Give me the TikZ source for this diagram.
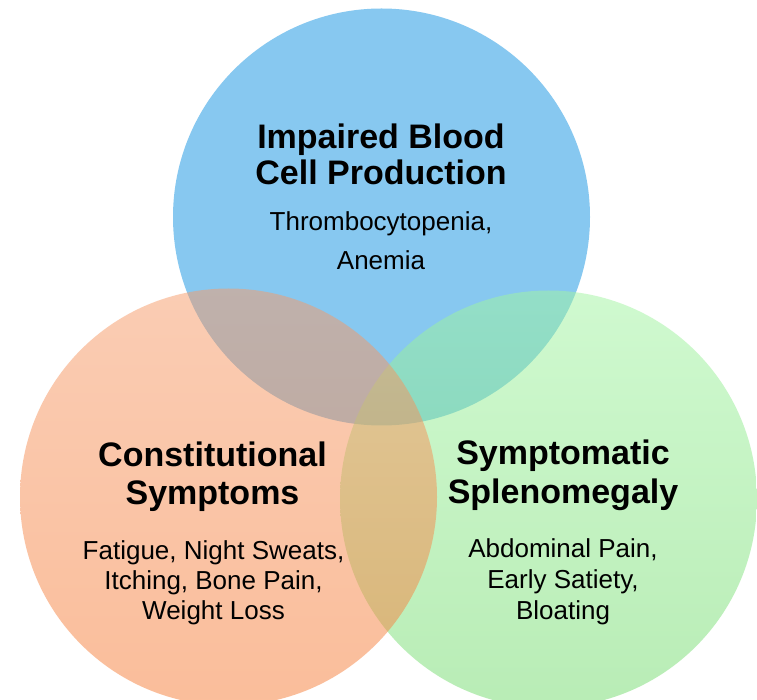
\documentclass[tikz,border=0pt]{standalone}
\usepackage{fontspec}
\setmainfont{Liberation Sans}
\usepackage{tikz}

\begin{document}
\begin{tikzpicture}[x=1pt,y=1pt,
  headText/.style={anchor=base,inner sep=0pt,outer sep=0pt,font=\fontsize{34}{36}\selectfont\bfseries},
  bodyText/.style={anchor=base,inner sep=0pt,outer sep=0pt,font=\fontsize{26}{28}\selectfont}]
\definecolor{fillColor}{RGB}{255,255,255}
\path[use as bounding box,fill=fillColor] (0,0) rectangle (757,699);
\begin{scope}
\path[clip] (0,0) rectangle (757,699);
\definecolor{blueTop}{RGB}{135,200,240}
\definecolor{greenTop}{RGB}{161,245,161}
\definecolor{greenBot}{RGB}{115,219,109}
\definecolor{orangeTop}{RGB}{247,155,105}
\definecolor{orangeBot}{RGB}{247,125,55}

\path[fill=blueTop] (381.5,482.0) circle (208.5);

\path[top color=greenTop,bottom color=greenBot,fill opacity=0.50] (548.5,200.0) circle (208.5);

\path[top color=orangeTop,bottom color=orangeBot,fill opacity=0.50] (228.5,202.0) circle (208.5);
\end{scope}
\definecolor{drawColor}{RGB}{0,0,0}

\node[headText,text=drawColor] (imp1) at (381.0,550.0) {Impaired Blood};

\node[headText,text=drawColor] (imp2) at (381.0,514.0) {Cell Production};

\node[bodyText,text=drawColor] (imp3) at (381.0,468.0) {Thrombocytopenia,};

\node[bodyText,text=drawColor] (imp4) at (381.0,429.0) {Anemia};

\node[headText,text=drawColor] (con1) at (212.5,233.0) {Constitutional};

\node[headText,text=drawColor] (con2) at (212.5,195.0) {Symptoms};

\node[bodyText,text=drawColor] (con3) at (213.5,140.0) {Fatigue, Night Sweats,};

\node[bodyText,text=drawColor] (con4) at (213.5,110.0) {Itching, Bone Pain,};

\node[bodyText,text=drawColor] (con5) at (213.5, 80.0) {Weight Loss};

\node[headText,text=drawColor] (spl1) at (563.0,234.0) {Symptomatic};

\node[headText,text=drawColor] (spl2) at (563.0,196.0) {Splenomegaly};

\node[bodyText,text=drawColor] (spl3) at (563.0,142.0) {Abdominal Pain,};

\node[bodyText,text=drawColor] (spl4) at (563.0,111.0) {Early Satiety,};

\node[bodyText,text=drawColor] (spl5) at (563.0, 80.0) {Bloating};
\end{tikzpicture}
\end{document}
